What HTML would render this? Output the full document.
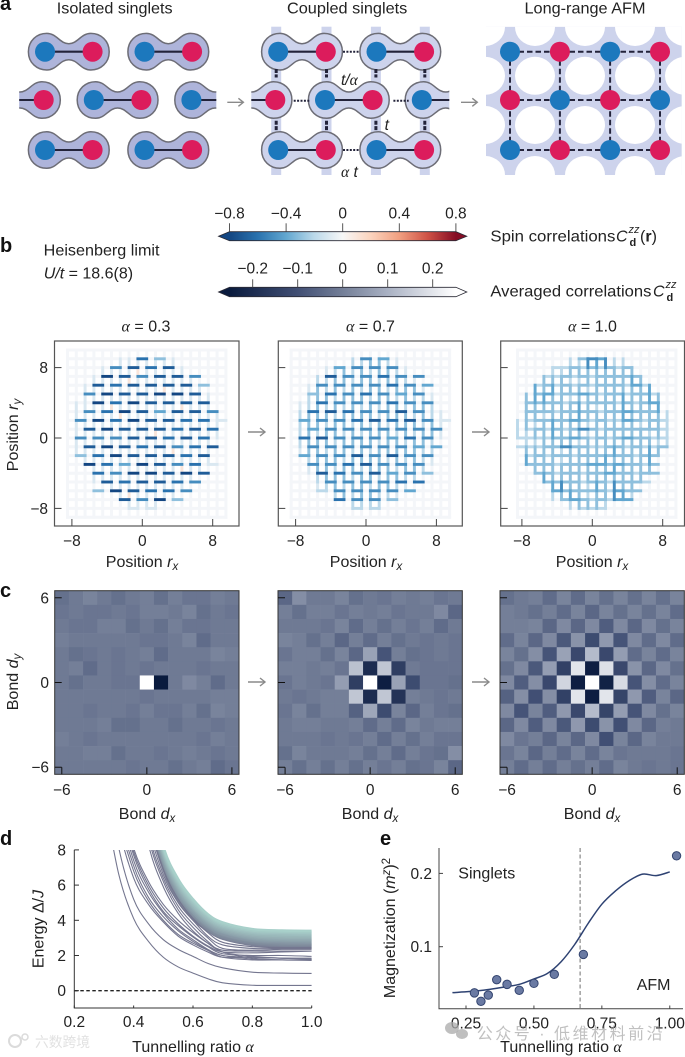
<!DOCTYPE html>
<html lang="en">
<head>
<meta charset="utf-8">
<title>Singlet to antiferromagnet crossover</title>
<style>
html,body{margin:0;padding:0;background:#fff;width:685px;height:1057px;overflow:hidden}
svg{display:block}
text{font-family:"Liberation Sans","Noto Sans CJK SC",sans-serif;fill:#222;font-size:16px}
.pl{font-weight:bold;font-size:20px;fill:#111}
.gr{font-family:"Liberation Serif",serif;font-style:italic}
.it{font-style:italic}
.sb{font-size:11.5px}
</style>
</head>
<body>
<svg id="fig" xmlns="http://www.w3.org/2000/svg" width="685" height="1057" viewBox="0 0 685 1057">
<defs>
<clipPath id="clip-iso"><rect x="19.2" y="20" width="197.1" height="160"/></clipPath>
<clipPath id="clip-cpl"><rect x="251.3" y="20" width="198" height="160"/></clipPath>
<clipPath id="clip-afm"><rect x="486" y="26.7" width="195.8" height="148.3"/></clipPath>
<clipPath id="clip-energy"><rect x="74.3" y="850" width="237.4" height="158"/></clipPath>
<linearGradient id="grad-spin" gradientUnits="userSpaceOnUse" x1="229.5" x2="455.9" y1="0" y2="0"></linearGradient>
<linearGradient id="grad-avg" gradientUnits="userSpaceOnUse" x1="230" x2="455.4" y1="0" y2="0"></linearGradient>
</defs>

<text class="pl" x="0" y="10">a</text>
<text class="pl" x="0" y="252">b</text>
<text class="pl" x="0" y="597">c</text>
<text class="pl" x="0" y="845">d</text>
<text class="pl" x="380" y="845">e</text>

<g id="schematic"></g>
<text x="56.8" y="13.5" textLength="115.8" lengthAdjust="spacingAndGlyphs">Isolated singlets</text>
<text x="287" y="13.5" textLength="120.3" lengthAdjust="spacingAndGlyphs">Coupled singlets</text>
<text x="524.5" y="13.5" textLength="121" lengthAdjust="spacingAndGlyphs">Long-range AFM</text>
<text class="it" x="341" y="85" style="font-size:15.5px">t/<tspan class="gr">α</tspan></text>
<text class="it" x="384.6" y="130" style="font-size:15.5px">t</text>
<text class="it" x="341" y="177" style="font-size:15.5px"><tspan class="gr">α</tspan> t</text>

<text x="43.7" y="255.7" textLength="115.8" lengthAdjust="spacingAndGlyphs">Heisenberg limit</text>
<text x="43.7" y="278.3"><tspan class="it">U/t</tspan> = 18.6(8)</text>

<g id="colorbars"></g>
<text x="490.4" y="241.7" textLength="125" lengthAdjust="spacingAndGlyphs">Spin correlations</text>
<text class="it" x="616" y="241.7">C</text>
<text class="it" x="628.5" y="233" style="font-size:11px">zz</text>
<text x="629.5" y="246" style="font-size:11px;font-weight:bold">d</text>
<text x="640" y="241.7">(<tspan style="font-weight:bold">r</tspan>)</text>
<text x="490.4" y="296.7" textLength="161" lengthAdjust="spacingAndGlyphs">Averaged correlations</text>
<text class="it" x="653" y="296.7">C</text>
<text class="it" x="665.5" y="288" style="font-size:11px">zz</text>
<text x="666.5" y="301" style="font-size:11px;font-weight:bold">d</text>

<text x="146" y="331.7" text-anchor="middle"><tspan class="gr">α</tspan> = 0.3</text>
<text x="370.5" y="331.7" text-anchor="middle"><tspan class="gr">α</tspan> = 0.7</text>
<text x="592.5" y="331.7" text-anchor="middle"><tspan class="gr">α</tspan> = 1.0</text>

<g id="lattices"></g>
<text x="0" y="0" transform="translate(18 435) rotate(-90)" text-anchor="middle">Position <tspan class="it">r</tspan><tspan class="it sb" dy="3">y</tspan></text>
<text x="142" y="567" text-anchor="middle">Position <tspan class="it">r</tspan><tspan class="it sb" dy="3">x</tspan></text>
<text x="366" y="567" text-anchor="middle">Position <tspan class="it">r</tspan><tspan class="it sb" dy="3">x</tspan></text>
<text x="592" y="567" text-anchor="middle">Position <tspan class="it">r</tspan><tspan class="it sb" dy="3">x</tspan></text>

<g id="heatmaps"></g>
<text x="0" y="0" transform="translate(18 682) rotate(-90)" text-anchor="middle">Bond <tspan class="it">d</tspan><tspan class="it sb" dy="3">y</tspan></text>
<text x="147" y="819" text-anchor="middle">Bond <tspan class="it">d</tspan><tspan class="it sb" dy="3">x</tspan></text>
<text x="370" y="819" text-anchor="middle">Bond <tspan class="it">d</tspan><tspan class="it sb" dy="3">x</tspan></text>
<text x="592" y="819" text-anchor="middle">Bond <tspan class="it">d</tspan><tspan class="it sb" dy="3">x</tspan></text>

<g id="energy"></g>
<text x="0" y="0" transform="translate(43.5 929) rotate(-90)" text-anchor="middle">Energy Δ/<tspan class="it">J</tspan></text>
<text x="193" y="1052" text-anchor="middle">Tunnelling ratio <tspan class="gr">α</tspan></text>

<g id="magnet"></g>
<text x="0" y="0" transform="translate(395 928) rotate(-90)" text-anchor="middle">Magnetization (<tspan class="it">m</tspan><tspan class="it sb" dy="-5">z</tspan><tspan dy="5">)</tspan><tspan class="sb" dy="-5">2</tspan></text>
<text x="458.3" y="878.3">Singlets</text>
<text x="636.7" y="990">AFM</text>
<text x="561" y="1052" text-anchor="middle">Tunnelling ratio <tspan class="gr">α</tspan></text>

<g opacity="0.85">
<circle cx="15" cy="1041" r="6" fill="none" stroke="#d5d5d5" stroke-width="2"/>
<circle cx="25" cy="1037" r="3" fill="none" stroke="#d5d5d5" stroke-width="1.5"/>
<text x="35" y="1047" textLength="55" lengthAdjust="spacingAndGlyphs" style="font-size:14px;fill:#dcdcdc">六数跨境</text>
</g>
<g>
<ellipse cx="452" cy="1028" rx="7" ry="6" fill="#aaa" opacity="0.75"/>
<ellipse cx="462" cy="1034" rx="6" ry="5" fill="#aaa" opacity="0.75"/>
<text x="476.7" y="1039" textLength="186" lengthAdjust="spacing" style="font-size:16px;fill:#999;fill-opacity:.62">公众号 · 低维材料前沿</text>
</g>
</svg>

<script>
/* ---------- panel b data: correlation magnitude in tenths (7 means C = -0.7; -1 means +0.1) ---------- */
/* horizontal bonds: rows y = 9 ... -8, columns x = -8 ... 9 */
const hBonds03 = [
[0,0,0,0,0,0,0,0,6,0,3,0,0,0,0,0,0,0],
[0,0,0,0,0,5,0,7,0,6,0,7,0,0,0,0,0,0],
[0,0,0,0,8,0,7,0,5,0,7,0,7,0,5,0,0,0],
[0,0,0,7,0,6,0,7,0,7,0,7,0,7,0,3,0,0],
[0,0,5,0,8,0,7,0,7,0,8,0,8,0,7,0,0,0],
[0,0,0,8,0,6,0,8,0,7,0,7,0,7,0,7,0,0],
[0,0,5,0,6,0,8,0,7,0,4,0,7,0,7,0,5,0],
[0,5,0,8,0,6,0,8,0,7,0,7,0,6,0,6,0,1],
[0,0,7,0,8,0,7,0,7,0,7,0,6,0,7,0,6,0],
[0,5,0,5,0,5,0,7,0,7,0,6,0,7,0,6,0,0],
[0,0,7,0,8,0,7,0,6,0,7,0,5,0,6,0,7,0],
[0,3,0,6,0,8,0,7,0,7,0,7,0,6,0,7,0,0],
[0,0,8,0,6,0,4,0,8,0,7,0,5,0,6,0,1,0],
[0,0,0,6,0,5,0,8,0,8,0,7,0,8,0,7,0,0],
[0,0,0,0,7,0,6,0,7,0,7,0,6,0,5,0,0,0],
[0,0,0,3,0,8,0,7,0,6,0,6,0,5,0,0,0,0],
[0,0,0,0,0,0,7,0,5,0,8,0,3,0,0,0,0,0],
[0,0,0,0,0,0,0,1,0,1,0,0,0,0,0,0,0,0]
];
const hBonds07 = [
[0,0,0,0,0,0,0,0,5,0,4,0,0,0,0,0,0,0],
[0,0,0,0,0,4,0,5,0,5,0,5,0,0,0,0,0,0],
[0,0,0,0,7,0,5,0,5,0,6,0,5,0,5,0,0,0],
[0,0,0,5,0,5,0,5,0,5,0,6,0,5,0,4,0,0],
[0,0,3,0,6,0,5,0,6,0,5,0,4,0,5,0,0,0],
[0,0,0,6,0,5,0,5,0,5,0,6,0,5,0,5,0,0],
[0,0,6,0,7,0,6,0,5,0,5,0,7,0,5,0,0,0],
[0,4,0,5,0,5,0,6,0,7,0,6,0,7,0,5,0,1],
[0,0,4,0,5,0,5,0,5,0,5,0,5,0,5,0,5,0],
[0,6,0,7,0,5,0,5,0,5,0,4,0,6,0,5,0,0],
[0,0,5,0,5,0,5,0,5,0,5,0,5,0,4,0,4,0],
[0,4,0,5,0,5,0,7,0,5,0,7,0,5,0,5,0,0],
[0,0,5,0,5,0,6,0,7,0,5,0,5,0,5,0,0,0],
[0,0,0,7,0,6,0,5,0,7,0,4,0,5,0,3,0,0],
[0,0,0,0,5,0,5,0,5,0,5,0,6,0,6,0,0,0],
[0,0,0,2,0,5,0,5,0,5,0,5,0,4,0,0,0,0],
[0,0,0,0,0,6,0,5,0,5,0,3,0,0,0,0,0,0],
[0,0,0,0,0,0,0,2,0,2,0,0,0,0,0,0,0,0]
];
const hBonds10 = [
[0,0,0,0,0,0,0,3,5,4,0,0,0,0,0,0,0,0],
[0,0,0,0,2,2,3,2,3,2,3,2,3,0,0,0,0,0],
[0,0,0,2,2,3,2,3,2,3,3,3,3,3,0,0,0,0],
[0,0,2,3,2,3,2,3,2,3,3,3,2,4,2,0,0,0],
[0,0,3,4,2,3,3,4,3,2,3,3,2,3,3,2,0,0],
[0,3,3,3,3,2,3,2,3,3,3,2,3,2,3,4,0,0],
[0,3,3,3,2,3,3,3,3,2,3,3,4,3,3,3,0,0],
[0,2,3,3,3,3,4,3,2,3,2,2,4,3,2,3,2,0],
[0,2,3,2,3,2,3,5,3,2,3,3,3,3,3,3,2,0],
[2,2,2,2,3,3,4,3,2,3,2,3,4,3,3,2,2,0],
[2,2,2,3,3,5,3,3,2,2,3,3,2,3,2,2,3,0],
[0,2,3,2,3,3,2,3,3,3,3,3,3,2,3,3,0,0],
[0,3,3,3,2,3,3,3,4,4,3,4,3,3,2,3,0,0],
[0,0,3,3,2,3,3,2,3,3,4,3,3,2,3,3,0,0],
[0,0,0,3,3,3,3,2,3,3,2,3,3,3,2,0,0,0],
[0,0,0,0,4,3,3,3,3,3,2,4,3,3,0,0,0,0],
[0,0,0,0,0,3,4,3,2,3,2,4,4,0,0,0,0,0],
[0,0,0,0,0,0,0,2,2,2,0,0,0,0,0,0,0,0]
];
/* vertical bonds: gaps y = 9|8 ... -7|-8, columns x = -8.5 ... 8.5 */
const vBonds03 = [
[0,0,0,0,0,0,1,1,1,1,1,1,1,0,0,0,0,0],
[0,0,0,0,1,1,1,1,-1,1,1,1,1,1,0,0,0,0],
[0,0,0,1,1,1,1,-1,1,1,1,1,1,1,1,0,0,0],
[0,0,1,1,1,1,1,1,1,1,1,-1,1,1,1,1,0,0],
[0,0,1,1,1,1,1,1,1,1,1,1,1,1,1,1,1,0],
[0,1,1,1,1,-1,1,1,1,1,1,1,1,-1,1,1,1,0],
[0,1,1,1,1,1,-1,1,1,1,1,1,1,1,1,1,1,1],
[0,1,1,1,1,1,1,1,1,1,1,1,1,1,1,1,1,1],
[0,1,1,1,1,1,1,1,1,1,-1,1,1,1,1,1,1,1],
[0,1,1,1,1,1,1,1,1,1,1,1,1,1,1,1,1,0],
[0,1,1,1,1,1,1,1,1,1,1,1,-1,1,1,1,1,0],
[0,0,1,1,1,1,1,1,1,1,1,1,1,1,1,1,1,0],
[0,0,0,1,1,1,1,1,1,1,1,1,1,-1,1,1,0,0],
[0,0,0,1,1,1,1,1,1,1,1,1,1,1,1,0,0,0],
[0,0,0,0,0,1,1,1,1,1,1,1,1,1,0,0,0,0],
[0,0,0,0,0,0,1,-1,1,1,1,1,1,0,0,0,0,0],
[0,0,0,0,0,0,0,1,1,1,1,0,0,0,0,0,0,0]
];
const vBonds07 = [
[0,0,0,0,0,0,0,2,2,3,3,2,1,0,0,0,0,0],
[0,0,0,0,1,2,3,2,3,2,3,3,2,1,0,0,0,0],
[0,0,0,2,2,3,3,2,3,3,2,3,3,2,1,0,0,0],
[0,0,1,3,2,3,2,3,2,3,3,2,3,3,3,1,0,0],
[0,0,2,3,3,2,3,3,3,2,3,3,2,3,2,2,1,0],
[0,1,2,3,2,3,2,3,2,3,2,3,3,2,3,3,2,0],
[0,2,3,3,3,2,3,3,3,3,2,3,3,3,2,3,2,1],
[0,2,3,3,2,3,3,2,3,2,3,2,3,3,3,2,3,1],
[0,2,3,2,3,3,2,3,2,3,3,3,2,3,2,3,3,1],
[0,2,3,3,3,2,3,3,3,3,2,3,3,2,3,3,2,0],
[0,1,3,3,2,3,3,2,3,2,3,3,3,3,3,2,2,0],
[0,0,2,3,3,3,2,3,3,3,3,2,3,2,3,2,1,0],
[0,0,1,3,3,2,3,3,2,3,3,3,2,3,3,2,0,0],
[0,0,0,2,3,3,3,2,3,3,2,3,3,2,2,0,0,0],
[0,0,0,1,2,3,2,3,3,2,3,3,2,1,0,0,0,0],
[0,0,0,0,0,2,3,2,3,3,2,2,1,0,0,0,0,0],
[0,0,0,0,0,0,0,2,2,2,2,0,0,0,0,0,0,0]
];
const vBonds10 = [
[0,0,0,0,0,0,2,2,5,4,5,2,2,0,0,0,0,0],
[0,0,0,0,2,2,3,3,3,3,3,3,3,3,0,0,0,0],
[0,0,0,3,3,3,2,2,3,3,3,3,3,4,3,0,0,0],
[0,0,4,3,4,3,3,3,2,3,3,3,3,3,3,4,0,0],
[0,3,4,4,3,3,2,3,3,3,3,3,4,3,3,4,3,0],
[0,3,3,3,3,3,3,4,3,2,3,3,4,3,3,3,4,0],
[0,3,3,2,3,3,3,4,3,3,3,3,4,3,3,3,3,2],
[2,3,2,3,4,3,3,3,2,3,3,3,3,3,2,3,3,2],
[2,2,3,3,4,3,3,3,2,3,3,3,3,3,3,2,3,2],
[0,2,2,3,3,3,3,2,3,3,3,3,3,3,3,3,2,2],
[0,3,3,3,3,2,3,3,3,3,3,4,3,3,3,4,3,0],
[0,4,3,3,3,2,3,3,3,3,4,3,3,3,3,4,0,0],
[0,0,3,3,3,3,3,3,3,3,3,4,3,3,3,3,0,0],
[0,0,0,4,3,3,3,3,3,3,3,3,3,3,3,0,0,0],
[0,0,0,0,4,5,3,3,2,4,3,5,3,3,0,0,0,0],
[0,0,0,0,2,3,4,3,2,3,3,5,4,2,0,0,0,0],
[0,0,0,0,0,0,2,3,3,3,2,0,0,0,0,0,0,0]
];
const latticeTicks = [-8,0,8];

/* ---------- panel c data: averaged correlation in hundredths, rows dy = 6 ... -6, columns dx = -6 ... 6 ---------- */
const avgCorr03 = [
[-3,-1,1,-1,-3,-1,0,-3,0,-2,-2,0,-1],
[-2,-1,-2,-2,-1,-2,0,0,-1,1,-3,-1,-2],
[-1,-2,-2,0,0,-3,-1,-3,0,-2,-2,-1,-1],
[0,-1,-1,-1,-1,-1,-2,-2,-1,1,-4,-1,-1],
[-1,-3,-2,-1,-2,-1,0,-4,-1,-1,-1,1,0],
[-1,0,-4,-1,-2,-1,-2,-1,-1,-1,-2,-1,-1],
[-1,-3,-1,-1,-2,-2,25,-25,-1,2,0,-4,-1],
[-1,-1,-1,-1,-1,-1,-2,-1,-1,-1,-1,0,0],
[-1,-1,-2,-1,-1,-2,0,-2,-2,0,-3,1,0],
[-1,-1,-1,0,-3,-3,-1,-1,-3,-1,-1,-2,-1],
[0,-1,-2,-1,-1,-1,-1,-1,-1,-1,-2,0,-1],
[-1,-1,0,0,-3,-1,-1,-2,-1,0,-1,-2,-1],
[-1,-1,-1,-1,-1,-2,-1,-1,-3,-1,0,-4,-2]
];
const avgCorr07 = [
[-5,3,-1,-1,1,-3,-1,-2,0,-1,0,-2,-1],
[0,-3,0,0,-2,0,-1,0,-2,-1,-1,2,-5],
[-1,-1,-1,-2,1,-4,0,-3,0,-2,0,-4,-1],
[1,0,-3,0,-5,0,-4,0,-3,-1,-2,-1,-2],
[-2,0,0,-3,1,-5,7,-9,0,-3,-2,-1,-2],
[0,0,-1,0,-2,13,-20,14,-15,-1,-2,-2,-2],
[-2,0,-1,-2,6,-15,25,-24,7,-11,-2,-2,-3],
[-1,-2,-1,0,0,14,-20,14,-18,0,-1,-2,-1],
[-2,1,-3,0,0,-6,8,-11,1,-5,0,-2,-3],
[-1,0,0,-1,-1,0,-4,0,-4,1,-1,0,0],
[-1,-1,-1,-2,-1,-2,0,-4,0,-3,0,-2,-2],
[-3,1,-1,-1,-1,0,-3,0,-4,0,-2,-3,3],
[0,-3,0,-3,0,-3,0,-2,0,-3,-2,1,-5]
];
const avgCorr10 = [
[-3,-1,0,-4,1,-4,1,-3,1,-3,1,-3,1],
[0,-1,-3,0,-4,1,-5,1,-3,1,-3,1,-4],
[0,0,1,-5,2,-5,2,-7,2,-5,2,-3,1],
[-4,1,-5,2,-8,4,-11,5,-9,2,-4,2,-4],
[1,-3,3,-9,7,-12,12,-12,6,-4,1,-4,1],
[-3,2,-8,6,-14,20,-24,19,-12,4,-5,2,-3],
[2,-7,3,-12,17,-24,25,-23,18,-9,3,-4,1],
[-6,3,-10,3,-14,20,-24,20,-13,5,-7,1,-5],
[2,-9,1,-7,5,-12,12,-13,6,-9,2,-3,1],
[-5,2,-7,2,-8,5,-11,4,-10,2,-5,0,-1],
[2,-2,0,-5,1,-5,2,-10,1,-5,1,-1,-1],
[-2,1,-5,0,-4,1,-4,1,-2,-1,-1,-1,-2],
[0,-4,0,-4,0,-3,0,-4,1,-1,-2,-1,-2]
];
const heatTicks = [-6,0,6];

/* ---------- colorbar ticks ---------- */
const spinTicks = [-0.8,-0.4,0,0.4,0.8];
const spinTickLabels = ['−0.8','−0.4','0','0.4','0.8'];
const avgTicks = [-0.2,-0.1,0,0.1,0.2];
const avgTickLabels = ['−0.2','−0.1','0','0.1','0.2'];

/* ---------- panel d data ---------- */
const energyAlpha = [0.3,0.35,0.4,0.45,0.5,0.55,0.6,0.65,0.7,0.8,0.9,1.0];
const energyLow = [
[11,6.6,4.1,2.8,1.9,1.35,1.0,0.68,0.45,0.31,0.3,0.3],
[13,8.1,5.2,3.8,2.9,2.35,1.95,1.55,1.3,1.05,1.0,0.98],
[14,9.3,6.4,4.9,3.9,3.1,2.6,2.2,1.9,1.9,1.85,1.8],
[15,9.8,6.8,5.1,4.0,3.2,2.7,2.3,2.0,1.8,1.75,1.72],
[16,10.3,7.1,5.3,4.2,3.4,2.8,2.3,1.9,1.75,1.75,1.75],
[16,10.7,7.4,5.6,4.4,3.5,2.9,2.35,2.0,1.9,1.85,1.85],
[17,11,7.7,5.8,4.5,3.7,3.05,2.5,2.1,2.0,2.0,1.95],
[17,11.2,7.9,6.0,4.7,3.8,3.1,2.55,2.2,2.15,2.2,2.25],
[18,11.5,8.1,6.2,4.9,4.0,3.3,2.7,2.3,2.25,2.25,2.25],
[30,20,13,8.3,5.9,4.4,3.4,2.7,2.2,1.85,1.75,1.75],
[30,21,13.5,8.7,6.2,4.6,3.6,2.8,2.2,1.95,1.85,1.8],
[32,22,14,9,6.4,4.8,3.8,3.0,2.4,2.3,2.35,2.35],
[33,23,14.5,9.4,6.6,5.0,4.0,3.1,2.6,2.4,2.4,2.4],
[33,23,15,9.8,6.9,5.2,4.1,3.3,2.75,2.5,2.45,2.45]
];
const energyBand = [
[36,25,16,10,6.9,5.1,4.05,3.4,2.95,2.6,2.5,2.45],
[36,25,16,10.1,7.0,5.2,4.15,3.45,3.0,2.65,2.55,2.55],
[37,25,16.2,10.2,7.1,5.25,4.2,3.5,3.05,2.72,2.6,2.6],
[37,26,16.4,10.4,7.2,5.35,4.3,3.6,3.15,2.8,2.68,2.65],
[37,26,16.6,10.5,7.3,5.45,4.4,3.65,3.2,2.85,2.75,2.72],
[38,26,16.8,10.7,7.4,5.55,4.45,3.72,3.3,2.92,2.82,2.8],
[38,26,17,10.8,7.5,5.65,4.55,3.8,3.35,2.98,2.88,2.86],
[38,27,17.2,11,7.6,5.75,4.65,3.88,3.42,3.05,2.95,2.92],
[39,27,17.4,11.1,7.7,5.85,4.72,3.95,3.5,3.12,3.02,3.0],
[39,27,17.6,11.3,7.8,5.95,4.8,4.02,3.58,3.2,3.1,3.08],
[39,27,17.8,11.5,7.9,6.05,4.9,4.1,3.65,3.28,3.2,3.16],
[40,28,18,11.7,8.0,6.15,5.0,4.2,3.72,3.35,3.28,3.25],
[40,28,18.2,11.8,8.1,6.25,5.1,4.28,3.8,3.42,3.35,3.32],
[40,28,18.4,12,8.2,6.35,5.2,4.35,3.88,3.5,3.42,3.4]
];
const energyXTicks = [0.2,0.4,0.6,0.8,1.0];
const energyYTicks = [0,2,4,6,8];

/* ---------- panel e data ---------- */
const magLineAlpha = [0.2,0.3,0.4,0.45,0.5,0.55,0.6,0.65,0.7,0.75,0.8,0.85,0.9,0.95,1.0];
const magLineValue = [0.0373,0.04,0.0455,0.049,0.056,0.0636,0.0795,0.103,0.132,0.158,0.176,0.19,0.199,0.197,0.202];
const magPointAlpha = [0.281,0.305,0.332,0.363,0.401,0.446,0.5,0.575,0.682,1.025];
const magPointValue = [0.037,0.0255,0.034,0.055,0.0486,0.0405,0.05,0.0623,0.0895,0.224];
const magCritical = [0.67];
const magXTicks = [0.25,0.5,0.75,1.0];
const magYTicks = [0.1,0.2];

/* ---------- helpers ---------- */
const NS = 'http://www.w3.org/2000/svg';
function mk(tag, attrs, parent) {
  const el = document.createElementNS(NS, tag);
  for (const k in attrs) el.setAttribute(k, attrs[k]);
  parent.appendChild(el);
  return el;
}
function tickText(parent, x, y, str, anchor, name) {
  const t = mk('text', {x: x, y: y, 'text-anchor': anchor}, parent);
  t.textContent = str;
  t.style.fontSize = '15.5px';
  
  
  return t;
}
function hex(c) { return [1,3,5].map(i => parseInt(c.substr(i,2),16)); }
function ramp(stops, v) {
  if (v <= stops[0][0]) return stops[0][1];
  for (let i = 1; i < stops.length; i++) {
    if (v <= stops[i][0]) {
      const a = stops[i-1], b = stops[i], t = (v-a[0])/(b[0]-a[0]);
      const p = hex(a[1]), q = hex(b[1]);
      return 'rgb(' + p.map((c,j) => Math.round(c+(q[j]-c)*t)).join(',') + ')';
    }
  }
  return stops[stops.length-1][1];
}
const spinStops = [[-0.8,'#134682'],[-0.6,'#2a72ae'],[-0.4,'#62a7d0'],[-0.2,'#bcd9ea'],[0,'#f7f7f7'],[0.2,'#fbd3bd'],[0.4,'#f19f80'],[0.6,'#cf5246'],[0.8,'#850c24']];
const avgStops = [[-0.25,'#0a1b3e'],[-0.1,'#414f74'],[0,'#747f98'],[0.1,'#a9b1c3'],[0.25,'#ffffff']];
function spline(pts) {
  let d = 'M' + pts[0][0].toFixed(2) + ',' + pts[0][1].toFixed(2);
  for (let i = 0; i < pts.length-1; i++) {
    const p0 = pts[Math.max(i-1,0)], p1 = pts[i], p2 = pts[i+1], p3 = pts[Math.min(i+2,pts.length-1)];
    const c1x = p1[0]+(p2[0]-p0[0])/6, c1y = p1[1]+(p2[1]-p0[1])/6;
    const c2x = p2[0]-(p3[0]-p1[0])/6, c2y = p2[1]-(p3[1]-p1[1])/6;
    d += 'C' + [c1x,c1y,c2x,c2y,p2[0],p2[1]].map(n => n.toFixed(2)).join(' ');
  }
  return d;
}

/* ---------- panel a ---------- */
(function () {
  const g = document.getElementById('schematic');
  const BLUE = '#1c78bd', RED = '#dc1c5c', DARK = '#23233a';
  const dumbbell = 'M-40.4,0C-40.4,-11 -32,-18.3 -22,-18.3C-12,-18.3 -9,-8 0,-8C9,-8 12,-18.3 22,-18.3C32,-18.3 40.4,-11 40.4,0C40.4,11 32,18.3 22,18.3C12,18.3 9,8 0,8C-9,8 -12,18.3 -22,18.3C-32,18.3 -40.4,11 -40.4,0Z';
  const isoCentres = [[68.8,51.7],[168.3,51.7],[19.9,100],[117.6,100],[215.2,100],[68.8,150],[168.3,150]];
  const cplCentres = [[302,51.7],[400.3,51.7],[251.5,100],[348.8,100],[445.6,100],[302,150],[400.3,150]];

  function singlets(centres, clip, fill, name) {
    const grp = mk('g', {'clip-path': 'url(#' + clip + ')'}, g);
    
    
    centres.forEach(c => {
      const s = mk('g', {transform: 'translate(' + c[0] + ' ' + c[1] + ')'}, grp);
      
      
      mk('path', {d: dumbbell, fill: fill, stroke: '#6d6d76', 'stroke-width': 1.5}, s);
      mk('line', {x1: -24, x2: 24, y1: 0, y2: 0, stroke: DARK, 'stroke-width': 2.1}, s);
      mk('circle', {cx: -23.8, cy: 0, r: 10, fill: BLUE}, s);
      mk('circle', {cx: 23.8, cy: 0, r: 10, fill: RED}, s);
    });
  }
  singlets(isoCentres, 'clip-iso', '#aeb4da', 'isolated-singlets-lattice');

  const bandXs = [276.2,326.5,375.9,424.8];
  bandXs.forEach(x => {
    const b = mk('rect', {x: x-5, y: 26.7, width: 10, height: 148.3, fill: '#cdd3ec'}, g);
    
    
  });
  singlets(cplCentres, 'clip-cpl', '#cdd3ec', 'coupled-singlets-lattice');
  bandXs.forEach(x => {
    [[69,77.5],[120.7,130.7]].forEach(y => {
      const l = mk('line', {x1: x, x2: x, y1: y[0], y2: y[1], stroke: DARK, 'stroke-width': 3, 'stroke-dasharray': '4 1.4'}, g);
      
      
    });
  });
  [[343,359.3,51.7],[343,359.3,150],[293.7,309.4,100.7],[393.4,408.7,100.7]].forEach(s => {
    const l = mk('line', {x1: s[0], x2: s[1], y1: s[2], y2: s[2], stroke: DARK, 'stroke-width': 2, 'stroke-dasharray': '2 1.4'}, g);
    
    
  });

  [[227.3,243.4],[461,477.3]].forEach(a => {
    const gg = mk('g', {fill: 'none', stroke: '#8a8a8a', 'stroke-width': 1.4}, g);
    
    
    mk('line', {x1: a[0], x2: a[1], y1: 102.3, y2: 102.3}, gg);
    mk('path', {d: 'M' + (a[1]-5) + ',98.3L' + a[1] + ',102.3L' + (a[1]-5) + ',106.3'}, gg);
  });

  /* AFM */
  const afm = mk('g', {}, g);
  
  
  const bg = mk('g', {'clip-path': 'url(#clip-afm)'}, afm);
  
  
  mk('rect', {x: 486, y: 26.7, width: 195.8, height: 148.3, fill: '#cdd3ec'}, bg);
  const holeXs = [485,535,585,635,685], holeYs = [27,75.8,125,175];
  holeXs.forEach(x => holeYs.forEach(y => mk('ellipse', {cx: x, cy: y, rx: 20, ry: 19, fill: '#fff'}, bg)));
  const siteXs = [510,559.9,610.1,660], siteYs = [51.7,100,150];
  siteYs.forEach(y => mk('line', {x1: 510, x2: 660, y1: y, y2: y, stroke: DARK, 'stroke-width': 2, 'stroke-dasharray': '5.5 3'}, afm));
  siteXs.forEach(x => mk('line', {x1: x, x2: x, y1: 51.7, y2: 150, stroke: DARK, 'stroke-width': 2, 'stroke-dasharray': '5.5 3'}, afm));
  siteYs.forEach((y,j) => siteXs.forEach((x,i) => {
    const c = mk('circle', {cx: x, cy: y, r: 10, fill: (i+j)%2 ? RED : BLUE}, afm);
    
    
  }));
})();

/* ---------- colorbars ---------- */
(function () {
  const g = document.getElementById('colorbars');
  const gs = document.getElementById('grad-spin'), ga = document.getElementById('grad-avg');
  spinStops.forEach(s => mk('stop', {offset: (s[0]+0.8)/1.6, 'stop-color': s[1]}, gs));
  avgStops.forEach(s => mk('stop', {offset: (s[0]+0.25)/0.5, 'stop-color': s[1]}, ga));
  const cx = 342.7;
  function bar(top, bottom, grad, name) {
    const mid = (top+bottom)/2;
    const p = mk('polygon', {points: '218.5,' + mid + ' 229.5,' + top + ' 455.9,' + top + ' 466.8,' + mid + ' 455.9,' + bottom + ' 229.5,' + bottom, fill: 'url(#' + grad + ')', stroke: '#2a2a35', 'stroke-width': 0.8}, g);
    
    
  }
  bar(231.7, 240.7, 'grad-spin', 'spin-colorbar');
  bar(287.3, 296.7, 'grad-avg', 'averaged-colorbar');
  const sxSpin = v => cx + v*141.5, sxAvg = v => cx + v*450;
  spinTicks.forEach((v,i) => {
    const l = mk('line', {x1: sxSpin(v), x2: sxSpin(v), y1: 223.3, y2: 231.7, stroke: '#444', 'stroke-width': 0.9}, g);
    
    
    tickText(g, sxSpin(v), 218.3, spinTickLabels[i], 'middle', 'spin-colorbar-tick-label');
  });
  avgTicks.forEach((v,i) => {
    const l = mk('line', {x1: sxAvg(v), x2: sxAvg(v), y1: 279.3, y2: 287.3, stroke: '#444', 'stroke-width': 0.9}, g);
    
    
    tickText(g, sxAvg(v), 273.3, avgTickLabels[i], 'middle', 'averaged-colorbar-tick-label');
  });
})();

/* ---------- panel b ---------- */
(function () {
  const g = document.getElementById('lattices');
  const panels = [
    {left: 54.5, right: 239, zero: 142.3, h: hBonds03, v: vBonds03, showY: true},
    {left: 278.3, right: 462.3, zero: 366, h: hBonds07, v: vBonds07, showY: false},
    {left: 500.7, right: 684.5, zero: 592.3, h: hBonds10, v: vBonds10, showY: false}
  ];
  const top = 341, bottom = 526, zeroY = 438, unit = 8.8;
  const sy = y => zeroY - y*unit;
  panels.forEach(pn => {
    const sx = x => pn.zero + x*unit;
    const pg = mk('g', {}, g);
    
    
    const grid = mk('g', {stroke: '#f4f6f9', 'stroke-width': 3, fill: 'none'}, pg);
    
    
    for (let y = -9; y <= 10; y++) mk('line', {x1: sx(-8.5)-1.5, x2: sx(9.5)+1.5, y1: sy(y), y2: sy(y)}, grid);
    for (let i = 0; i < 19; i++) mk('line', {x1: sx(-8.5+i), x2: sx(-8.5+i), y1: sy(10)-1.5, y2: sy(-9)+1.5}, grid);
    const bonds = [];
    pn.h.forEach((row, r) => row.forEach((v, c) => { if (v !== 0) bonds.push({v: v, x1: sx(c-8.5), x2: sx(c-7.5), y1: sy(9-r), y2: sy(9-r), kind: 'horizontal-bond'}); }));
    pn.v.forEach((row, r) => row.forEach((v, c) => { if (v !== 0) bonds.push({v: v, x1: sx(c-8.5), x2: sx(c-8.5), y1: sy(9-r), y2: sy(8-r), kind: 'vertical-bond'}); }));
    bonds.sort((a,b) => a.v - b.v);
    bonds.forEach(b => {
      const l = mk('line', {x1: b.x1, x2: b.x2, y1: b.y1, y2: b.y2, stroke: ramp(spinStops, -b.v/10), 'stroke-width': 2.9, 'stroke-linecap': 'square'}, pg);
      
      
    });
    const f = mk('rect', {x: pn.left, y: top, width: pn.right-pn.left, height: bottom-top, fill: 'none', stroke: '#555', 'stroke-width': 1.2}, pg);
    
    
    latticeTicks.forEach(t => {
      const a = mk('line', {x1: sx(t), x2: sx(t), y1: bottom, y2: bottom-7, stroke: '#444', 'stroke-width': 1}, pg);
      
      
      const b = mk('line', {x1: pn.left, x2: pn.left+7, y1: sy(t), y2: sy(t), stroke: '#444', 'stroke-width': 1}, pg);
      
      
      tickText(pg, sx(t), 546, t < 0 ? '−' + (-t) : String(t), 'middle', 'x-tick-label');
      if (pn.showY) tickText(pg, 48, sy(t)+5.5, t < 0 ? '−' + (-t) : String(t), 'end', 'y-tick-label');
    });
  });
  [[248,265],[472,489]].forEach(a => {
    const gg = mk('g', {fill: 'none', stroke: '#8a8a8a', 'stroke-width': 1.4}, g);
    
    
    mk('line', {x1: a[0], x2: a[1], y1: 432, y2: 432}, gg);
    mk('path', {d: 'M' + (a[1]-5) + ',428L' + a[1] + ',432L' + (a[1]-5) + ',436'}, gg);
  });
})();

/* ---------- panel c ---------- */
(function () {
  const g = document.getElementById('heatmaps');
  const panels = [
    {left: 54.7, data: avgCorr03, showY: true},
    {left: 278, data: avgCorr07, showY: false},
    {left: 500, data: avgCorr10, showY: false}
  ];
  const top = 590.7, size = 184.3, cell = size/13;
  const cellY = 183.6/13;
  panels.forEach(pn => {
    const pg = mk('g', {}, g);
    
    
    const sx = d => pn.left + (d+6.5)*cell;
    const sy = d => top + (6.5-d)*cellY;
    pn.data.forEach((row, r) => row.forEach((v, c) => {
      const rc = mk('rect', {x: pn.left+c*cell, y: top+r*cellY, width: cell+0.3, height: cellY+0.3, fill: ramp(avgStops, v/100)}, pg);
      
      
    }));
    const f = mk('rect', {x: pn.left, y: top, width: size, height: 183.6, fill: 'none', stroke: '#333', 'stroke-width': 1}, pg);
    
    
    heatTicks.forEach(t => {
      const a = mk('line', {x1: sx(t), x2: sx(t), y1: top+183.6, y2: top+183.6-7, stroke: '#111', 'stroke-width': 1}, pg);
      
      
      const b = mk('line', {x1: pn.left, x2: pn.left+7, y1: sy(t), y2: sy(t), stroke: '#111', 'stroke-width': 1}, pg);
      
      
      tickText(pg, sx(t), 795, t < 0 ? '−' + (-t) : String(t), 'middle', 'x-tick-label');
      if (pn.showY) tickText(pg, 49, sy(t)+5.5, t < 0 ? '−' + (-t) : String(t), 'end', 'y-tick-label');
    });
  });
  [[248,265],[472,489]].forEach(a => {
    const gg = mk('g', {fill: 'none', stroke: '#8a8a8a', 'stroke-width': 1.4}, g);
    
    
    mk('line', {x1: a[0], x2: a[1], y1: 682, y2: 682}, gg);
    mk('path', {d: 'M' + (a[1]-5) + ',678L' + a[1] + ',682L' + (a[1]-5) + ',686'}, gg);
  });
})();

/* ---------- panel d ---------- */
(function () {
  const g = document.getElementById('energy');
  const sx = a => 74.3 + (a-0.2)*296.75;
  const sy = e => 990.7 - e*17.6;
  const clip = mk('g', {'clip-path': 'url(#clip-energy)', fill: 'none'}, g);
  
  
  const n = energyBand.length;
  energyBand.forEach((vals, i) => {
    const t = i/(n-1);
    const stroke = 'rgb(' + [Math.round(120+48*t), Math.round(126+82*t), Math.round(148+54*t)].join(',') + ')';
    const p = mk('path', {d: spline(vals.map((v,k) => [sx(energyAlpha[k]), sy(v)])), stroke: stroke, 'stroke-width': 2.4}, clip);
    
    
  });
  energyLow.forEach(vals => {
    const p = mk('path', {d: spline(vals.map((v,k) => [sx(energyAlpha[k]), sy(v)])), stroke: '#74768f', 'stroke-width': 1.1}, clip);
    
    
  });
  const z = mk('line', {x1: sx(0.2), x2: sx(1.0), y1: sy(0), y2: sy(0), stroke: '#222', 'stroke-width': 1.3, 'stroke-dasharray': '3.5 2.5'}, g);
  
  
  const ax = mk('path', {d: 'M' + sx(0.2) + ',' + sy(8) + 'V1008H' + sx(1.0), fill: 'none', stroke: '#333', 'stroke-width': 1}, g);
  
  
  energyXTicks.forEach(t => {
    const l = mk('line', {x1: sx(t), x2: sx(t), y1: 1008, y2: 1005.5, stroke: '#333', 'stroke-width': 1}, g);
    
    
    tickText(g, sx(t), 1027, t.toFixed(1), 'middle', 'x-tick-label');
  });
  energyYTicks.forEach(t => {
    const l = mk('line', {x1: 74.3, x2: 79, y1: sy(t), y2: sy(t), stroke: '#333', 'stroke-width': 1}, g);
    
    
    tickText(g, 66, sy(t)+5.5, String(t), 'end', 'y-tick-label');
  });
})();

/* ---------- panel e ---------- */
(function () {
  const g = document.getElementById('magnet');
  const sx = a => 466 + (a-0.25)*271.7;
  const sy = v => 946.7 - (v-0.1)*733;
  magCritical.forEach(a => {
    const l = mk('line', {x1: sx(a), x2: sx(a), y1: 848, y2: 1008.7, stroke: '#888', 'stroke-width': 1.2, 'stroke-dasharray': '4 2.5'}, g);
    
    
  });
  const line = mk('path', {d: spline(magLineAlpha.map((a,i) => [sx(a), sy(magLineValue[i])])), fill: 'none', stroke: '#2e4272', 'stroke-width': 1.5}, g);
  
  
  magPointAlpha.forEach((a,i) => {
    const c = mk('circle', {cx: sx(a), cy: sy(magPointValue[i]), r: 4.2, fill: '#6a7aa3', stroke: '#33446f', 'stroke-width': 1}, g);
    
    
  });
  const ax = mk('path', {d: 'M439,848V1008.7H683', fill: 'none', stroke: '#444', 'stroke-width': 1}, g);
  
  
  magXTicks.forEach(t => {
    const l = mk('line', {x1: sx(t), x2: sx(t), y1: 1008.7, y2: 1005.5, stroke: '#444', 'stroke-width': 1}, g);
    
    
    tickText(g, sx(t), 1028.5, t.toFixed(2), 'middle', 'x-tick-label');
  });
  magYTicks.forEach(t => {
    const l = mk('line', {x1: 439, x2: 443, y1: sy(t), y2: sy(t), stroke: '#444', 'stroke-width': 1}, g);
    
    
    tickText(g, 432, sy(t)+5.5, t.toFixed(1), 'end', 'y-tick-label');
  });
})();
</script>
</body>
</html>
